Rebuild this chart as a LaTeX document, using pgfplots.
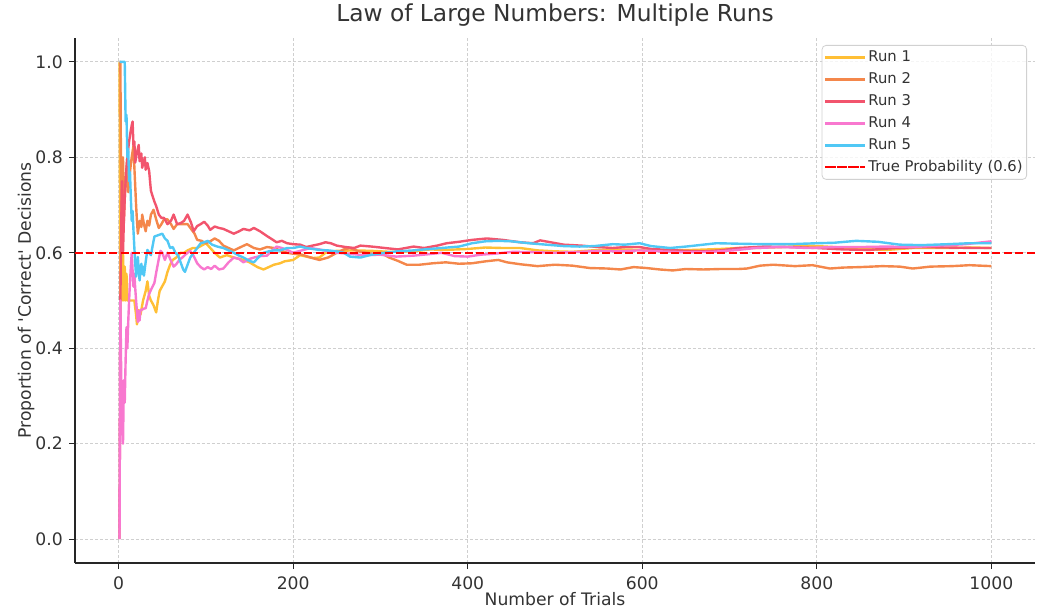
\documentclass[border=0pt]{standalone}
\usepackage{pgfplots}
\pgfplotsset{compat=1.18}
\usepackage{fontspec}
\setmainfont{DejaVu Sans}
\definecolor{txt}{HTML}{333333}
\definecolor{gridc}{HTML}{CFCFCF}
\definecolor{cA}{HTML}{FFBF35}
\definecolor{cB}{HTML}{F4874B}
\definecolor{cC}{HTML}{F2546D}
\definecolor{cD}{HTML}{F878CF}
\definecolor{cE}{HTML}{50C8F5}
\begin{document}
\begin{tikzpicture}
\begin{axis}[
  name=ax, at={(0,0)}, anchor=south west,
  scale only axis, width=720pt, height=393.75pt,
  xmin=-50, xmax=1050, ymin=-0.05, ymax=1.05,
  axis x line*=bottom, axis y line*=left,
  axis line style={-, black!85, line width=0.8pt},
  xtick={0,200,400,600,800,1000},
  ytick={0,0.2,0.4,0.6,0.8,1.0},
  tick align=outside, major tick length=4.5pt,
  tick style={black!85, line width=0.8pt},
  /pgf/number format/assume math mode=true,
  /pgf/number format/1000 sep={},
  yticklabel style={/pgf/number format/fixed, /pgf/number format/fixed zerofill, /pgf/number format/precision=1},
  ticklabel style={font=\fontsize{12.9}{15}\selectfont, text=txt},
  xticklabel style={anchor=north, inner sep=0pt, yshift=-5.5pt},
  yticklabel style={anchor=east, inner sep=0pt, xshift=-4.5pt},
  grid=major,
  major grid style={gridc, dash pattern=on 2.3pt off 1.5pt, line width=0.6pt},
  title={Law of Large Numbers: Multiple Runs},
  title style={font=\fontsize{17.5}{21}\selectfont, text=txt, at={(axis description cs:0.5,1)}, anchor=base, yshift=6pt, inner sep=0pt},
  xlabel={Number of Trials},
  xlabel style={font=\fontsize{12.9}{15}\selectfont, text=txt, at={(axis description cs:0.5,0)}, anchor=base, yshift=-32pt, inner sep=0pt},
  ylabel={Proportion of \textquotesingle Correct\textquotesingle\ Decisions},
  ylabel style={font=\fontsize{12.9}{15}\selectfont, text=txt, at={(axis description cs:-0.051,0.5)}, anchor=center, inner sep=0pt},
  every axis plot/.append style={line width=1.8pt, line join=round},
  legend image code/.code={\path (0pt,0pt) -- (30pt,0pt); \draw[#1] (2pt,0pt) -- (26pt,0pt);},
  legend cell align=left,
  legend style={at={(0.9917,0.9867)}, anchor=north east, draw=black!18, fill=white, fill opacity=0.8, text opacity=1, rounded corners=3pt, line width=0.6pt,
    font=\fontsize{11.1}{13}\selectfont, text=txt, inner xsep=1.5pt, inner ysep=2.25pt, row sep=3pt,
    nodes={inner sep=1.5pt, text height=8.1pt, text depth=2.4pt}},
]
\addplot[cA] coordinates {(1,1.0) (2,0.5) (3,0.667) (4,0.5) (5,0.6) (6,0.5) (7,0.571) (8,0.5) (9,0.556) (10,0.5) (12,0.5) (14,0.5) (16,0.5) (18,0.5) (20,0.47) (21,0.45) (23,0.48) (25,0.47) (28,0.5) (31,0.52) (33,0.54) (35,0.51) (37,0.5) (40,0.49) (43,0.475) (45,0.5) (47,0.52) (50,0.53) (53,0.54) (56,0.56) (59,0.575) (62,0.585) (66,0.59) (71,0.6) (75,0.6) (79,0.605) (85,0.61) (90,0.61) (95,0.615) (100,0.62) (105,0.61) (110,0.6) (116,0.59) (124,0.595) (132,0.59) (143,0.585) (150,0.58) (159,0.57) (166,0.565) (172,0.57) (178,0.575) (185,0.578) (190,0.582) (200,0.585) (208,0.595) (215,0.592) (223,0.589) (230,0.59) (237,0.6) (250,0.604) (270,0.605) (290,0.604) (310,0.602) (338,0.603) (357,0.607) (375,0.606) (400,0.608) (420,0.611) (440,0.61) (460,0.61) (480,0.605) (500,0.603) (520,0.602) (550,0.606) (575,0.607) (600,0.606) (630,0.605) (660,0.606) (690,0.608) (710,0.61) (730,0.61) (760,0.612) (790,0.615) (820,0.612) (850,0.608) (880,0.606) (910,0.61) (950,0.61) (980,0.611) (1000,0.61)};
\addlegendentry{Run 1}
\addplot[cB] coordinates {(1,1.0) (2,1.0) (3,0.667) (4,0.75) (5,0.8) (6,0.667) (7,0.714) (8,0.75) (9,0.778) (10,0.8) (11,0.727) (12,0.75) (13,0.769) (14,0.786) (15,0.8) (16,0.8125) (17,0.824) (18,0.78) (19,0.74) (20,0.7) (21,0.667) (22,0.64) (24,0.667) (26,0.654) (27,0.68) (29,0.66) (31,0.645) (33,0.667) (35,0.657) (37,0.68) (40,0.69) (43,0.67) (46,0.652) (49,0.66) (52,0.67) (56,0.67) (60,0.66) (63,0.65) (67,0.66) (71,0.66) (75,0.66) (79,0.66) (83,0.65) (87,0.64) (90,0.627) (95,0.625) (100,0.62) (105,0.624) (110,0.63) (115,0.625) (120,0.615) (126,0.61) (132,0.605) (140,0.612) (147,0.618) (155,0.61) (162,0.607) (170,0.612) (178,0.61) (185,0.605) (193,0.6) (200,0.598) (210,0.596) (220,0.59) (230,0.585) (240,0.59) (250,0.6) (258,0.607) (265,0.61) (275,0.603) (290,0.598) (300,0.6) (310,0.59) (320,0.583) (330,0.575) (345,0.575) (360,0.578) (375,0.58) (390,0.577) (405,0.578) (420,0.582) (435,0.585) (445,0.58) (460,0.576) (480,0.572) (500,0.575) (520,0.573) (540,0.568) (560,0.567) (575,0.565) (590,0.57) (605,0.568) (620,0.565) (635,0.563) (650,0.566) (670,0.565) (690,0.566) (710,0.566) (720,0.567) (735,0.573) (750,0.575) (775,0.572) (795,0.574) (815,0.567) (830,0.569) (850,0.57) (875,0.572) (895,0.571) (910,0.567) (930,0.571) (955,0.572) (975,0.574) (1000,0.572)};
\addlegendentry{Run 2}
\addplot[cC] coordinates {(1,0) (2,0.5) (3,0.667) (4,0.75) (5,0.6) (6,0.667) (7,0.714) (8,0.75) (9,0.778) (10,0.8) (11,0.818) (12,0.833) (13,0.846) (14,0.857) (15,0.867) (16,0.875) (17,0.824) (18,0.833) (19,0.789) (20,0.8) (21,0.81) (22,0.818) (23,0.826) (24,0.792) (25,0.8) (26,0.808) (27,0.778) (28,0.786) (29,0.793) (30,0.8) (31,0.774) (32,0.781) (33,0.788) (35,0.771) (36,0.75) (37,0.73) (39,0.718) (41,0.707) (43,0.698) (46,0.68) (49,0.673) (52,0.673) (56,0.66) (60,0.667) (63,0.68) (67,0.66) (71,0.662) (75,0.667) (79,0.68) (83,0.663) (86,0.645) (90,0.656) (94,0.66) (98,0.665) (102,0.657) (105,0.648) (110,0.655) (115,0.652) (120,0.65) (126,0.645) (132,0.64) (138,0.645) (143,0.65) (150,0.647) (155,0.652) (162,0.645) (170,0.635) (176,0.628) (181,0.622) (187,0.625) (193,0.62) (200,0.618) (208,0.617) (215,0.612) (222,0.615) (230,0.618) (237,0.622) (243,0.62) (250,0.615) (260,0.612) (270,0.61) (277,0.615) (290,0.613) (305,0.61) (320,0.607) (338,0.613) (350,0.61) (365,0.615) (376,0.62) (390,0.623) (405,0.627) (422,0.63) (440,0.627) (460,0.622) (475,0.62) (483,0.626) (495,0.622) (510,0.617) (530,0.615) (550,0.612) (566,0.61) (580,0.612) (597,0.612) (610,0.608) (630,0.606) (650,0.604) (670,0.603) (690,0.605) (710,0.61) (740,0.613) (770,0.612) (800,0.61) (830,0.607) (860,0.606) (890,0.61) (920,0.612) (950,0.611) (980,0.61) (1000,0.61)};
\addlegendentry{Run 3}
\addplot[cD] coordinates {(1,0) (2,0.5) (3,0.333) (4,0.25) (5,0.2) (6,0.333) (7,0.286) (8,0.375) (9,0.444) (10,0.4) (11,0.455) (12,0.5) (13,0.538) (14,0.571) (15,0.6) (16,0.5625) (17,0.529) (18,0.556) (19,0.526) (20,0.5) (21,0.476) (22,0.455) (23,0.478) (24,0.458) (25,0.48) (27,0.481) (29,0.483) (31,0.484) (33,0.5) (35,0.514) (38,0.526) (41,0.537) (43,0.558) (46,0.587) (48,0.604) (50,0.6) (53,0.585) (56,0.6) (60,0.583) (63,0.571) (66,0.576) (70,0.586) (73,0.59) (77,0.597) (82,0.604) (86,0.593) (90,0.578) (94,0.57) (98,0.565) (102,0.57) (106,0.566) (110,0.573) (115,0.565) (120,0.567) (126,0.58) (132,0.59) (138,0.587) (143,0.58) (150,0.587) (155,0.59) (162,0.593) (170,0.594) (176,0.605) (181,0.613) (187,0.61) (193,0.606) (200,0.6) (210,0.605) (220,0.61) (230,0.607) (240,0.603) (250,0.6) (265,0.598) (280,0.595) (300,0.596) (318,0.592) (338,0.594) (355,0.597) (370,0.6) (385,0.593) (400,0.592) (415,0.596) (430,0.598) (452,0.602) (480,0.601) (500,0.6) (529,0.602) (550,0.604) (570,0.603) (597,0.605) (620,0.603) (650,0.601) (680,0.602) (704,0.605) (730,0.61) (760,0.612) (790,0.61) (820,0.612) (850,0.612) (880,0.613) (910,0.612) (940,0.615) (970,0.618) (990,0.622) (1000,0.624)};
\addlegendentry{Run 4}
\addplot[cE] coordinates {(1,1) (2,1) (3,1) (4,1) (5,1) (6,1) (7,1) (8,0.875) (9,0.889) (10,0.8) (11,0.818) (12,0.75) (13,0.769) (14,0.714) (15,0.667) (16,0.6875) (17,0.647) (18,0.611) (19,0.579) (20,0.55) (21,0.571) (22,0.591) (23,0.565) (24,0.542) (25,0.56) (26,0.577) (27,0.556) (28,0.571) (29,0.552) (30,0.567) (31,0.581) (32,0.594) (33,0.606) (35,0.6) (37,0.595) (39,0.615) (41,0.634) (44,0.636) (47,0.638) (50,0.64) (53,0.63) (56,0.625) (59,0.61) (62,0.612) (65,0.6) (68,0.595) (71,0.58) (74,0.565) (76,0.56) (79,0.575) (82,0.59) (86,0.6) (90,0.61) (94,0.62) (98,0.622) (102,0.625) (107,0.617) (113,0.613) (120,0.61) (126,0.605) (132,0.6) (138,0.594) (143,0.59) (150,0.583) (155,0.58) (160,0.59) (166,0.6) (172,0.603) (178,0.605) (185,0.605) (193,0.61) (200,0.61) (208,0.613) (215,0.61) (222,0.608) (230,0.606) (240,0.605) (250,0.603) (258,0.6) (265,0.592) (277,0.59) (290,0.596) (305,0.6) (320,0.603) (338,0.605) (350,0.607) (370,0.61) (390,0.613) (405,0.62) (420,0.624) (435,0.625) (450,0.624) (470,0.62) (490,0.617) (510,0.614) (528,0.613) (545,0.614) (566,0.618) (580,0.617) (597,0.62) (610,0.614) (632,0.61) (650,0.613) (670,0.617) (685,0.62) (710,0.619) (740,0.618) (769,0.618) (800,0.62) (820,0.621) (845,0.625) (870,0.623) (895,0.617) (920,0.616) (950,0.618) (975,0.62) (1000,0.62)};
\addlegendentry{Run 5}
\addplot[red, line width=1.5pt, dash pattern=on 6pt off 2.6pt] coordinates {(-50,0.6) (1050,0.6)};
\addlegendentry{True Probability (0.6)}
\end{axis}
\pgfresetboundingbox
\path[use as bounding box] ([shift={(-56.25pt,-33.75pt)}]ax.south west) rectangle ([shift={(723pt,422.25pt)}]ax.south west);
\end{tikzpicture}
\end{document}
